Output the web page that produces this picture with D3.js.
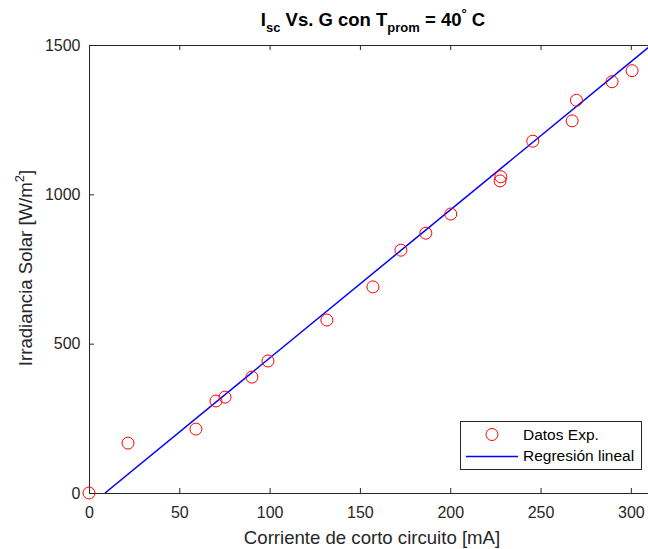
<!DOCTYPE html>
<html>
<head>
<meta charset="utf-8">
<script src="https://cdn.jsdelivr.net/npm/d3@7"></script>
<style>
  html, body { margin: 0; padding: 0; background: #fff; }
  svg { display: block; font-family: "Liberation Sans", Arial, Helvetica, sans-serif; }
</style>
</head>
<body>
<svg id="chart" width="648" height="549"></svg>
<script>
// Measured short-circuit current [mA] and solar irradiance [W/m^2]
const corriente = [0, 21.6, 59.2, 70.3, 75.3, 90.2, 99.1, 131.7, 157.2, 172.7, 186.5, 200.3, 227.6, 228.0, 245.7, 267.5, 269.9, 289.6, 300.7];
const irradiancia = [0, 167, 214, 308, 321, 388, 442, 579, 690, 813, 870, 934, 1045, 1059, 1178, 1246, 1315, 1377, 1414];

// Linear regression G = m * Isc + b
const pendiente = 4.958;
const intercepto = -44;

const xTicks = [0, 50, 100, 150, 200, 250, 300];
const yTicks = [0, 500, 1000, 1500];
const xDomain = [0, 309.5];
const yDomain = [0, 1500];

const legendLabels = ["Datos Exp.", "Regresión lineal"];

const svg = d3.select("#chart");
const mLeft = 89, mRight = 648, mTop = 45, mBottom = 493;
const axisColor = "#262626";

const x = d3.scaleLinear().domain(xDomain).range([mLeft, mRight]);
const y = d3.scaleLinear().domain(yDomain).range([mBottom, mTop]);

// clip region for the fitted line
svg.append("defs").append("clipPath").attr("id", "plotArea")
  .append("rect").attr("x", mLeft).attr("y", mTop).attr("width", mRight - mLeft).attr("height", mBottom - mTop);

function styleAxis(g) {
  g.selectAll("path.domain").attr("stroke", axisColor).attr("stroke-width", 1);
  g.selectAll(".tick line").attr("stroke", axisColor).attr("stroke-width", 1);
  g.selectAll(".tick text").attr("fill", axisColor).style("font-size", "16px")
    .style("font-family", "'Liberation Sans', Arial, sans-serif");
}

// bottom axis with inward ticks
const gx = svg.append("g").attr("transform", `translate(0,${mBottom})`)
  .call(d3.axisBottom(x).tickValues(xTicks).tickSize(-5).tickSizeOuter(0).tickPadding(13.5).tickFormat(d3.format("d")));
styleAxis(gx);

// top axis (box), ticks only
const gt = svg.append("g").attr("transform", `translate(0,${mTop})`)
  .call(d3.axisTop(x).tickValues(xTicks).tickSize(-5).tickSizeOuter(0).tickFormat(""));
styleAxis(gt);

// left axis
const gy = svg.append("g").attr("transform", `translate(${mLeft},0)`)
  .call(d3.axisLeft(y).tickValues(yTicks).tickSize(-5).tickSizeOuter(0).tickPadding(8.5).tickFormat(d3.format("d")));
styleAxis(gy);

// regression line, from the x-intercept to the right edge
const x0 = -intercepto / pendiente;
const lineData = [x0, xDomain[1] + 2].map(v => [v, pendiente * v + intercepto]);
svg.append("path")
  .attr("clip-path", "url(#plotArea)")
  .attr("d", d3.line().x(d => x(d[0])).y(d => y(d[1]))(lineData))
  .attr("fill", "none").attr("stroke", "#0000ff").attr("stroke-width", 1.5);

// experimental points
svg.append("g").selectAll("circle")
  .data(corriente.map((c, i) => [c, irradiancia[i]]))
  .join("circle")
  .attr("cx", d => x(d[0])).attr("cy", d => y(d[1])).attr("r", 6)
  .attr("fill", "none").attr("stroke", "#ff0000").attr("stroke-width", 1);

// title
const title = svg.append("text").attr("x", 373).attr("y", 26).attr("text-anchor", "middle")
  .attr("fill", "#000").style("font-size", "18.5px").style("font-weight", "bold");
title.append("tspan").text("I");
title.append("tspan").attr("dy", 6).style("font-size", "13px").text("sc");
title.append("tspan").attr("dy", -6).text(" Vs. G con T");
title.append("tspan").attr("dy", 6).style("font-size", "13px").text("prom");
title.append("tspan").attr("dy", -6).text(" = 40");
title.append("tspan").attr("dy", -8).style("font-size", "13px").text("°");
title.append("tspan").attr("dy", 8).text(" C");

// x label
svg.append("text").attr("x", 372).attr("y", 543.5).attr("text-anchor", "middle")
  .attr("fill", axisColor).style("font-size", "18.6px").text("Corriente de corto circuito [mA]");

// y label
const yl = svg.append("text").attr("transform", "translate(32,268) rotate(-90)").attr("text-anchor", "middle")
  .attr("fill", axisColor).style("font-size", "18.6px");
yl.append("tspan").text("Irradiancia Solar [W/m");
yl.append("tspan").attr("dy", -8).style("font-size", "13px").text("2");
yl.append("tspan").attr("dy", 8).text("]");

// legend
const lg = svg.append("g");
lg.append("rect").attr("x", 460.5).attr("y", 421.5).attr("width", 181).attr("height", 48)
  .attr("fill", "#fff").attr("stroke", axisColor).attr("stroke-width", 1);
lg.append("circle").attr("cx", 492).attr("cy", 434.5).attr("r", 6)
  .attr("fill", "none").attr("stroke", "#ff0000").attr("stroke-width", 1);
lg.append("line").attr("x1", 466).attr("x2", 518).attr("y1", 456.5).attr("y2", 456.5)
  .attr("stroke", "#0000ff").attr("stroke-width", 1.5);
lg.selectAll("text.lab").data(legendLabels).join("text").attr("class", "lab")
  .attr("x", 523).attr("y", (d, i) => 440 + i * 21)
  .attr("fill", "#000").style("font-size", "15.5px").text(d => d);
</script>
</body>
</html>
